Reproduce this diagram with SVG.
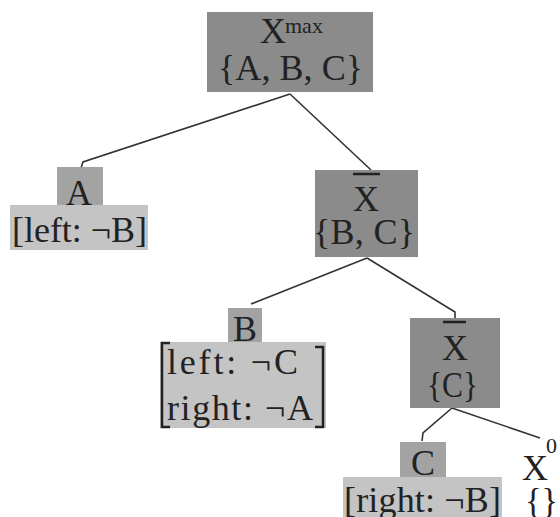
<svg xmlns="http://www.w3.org/2000/svg" width="560" height="517" viewBox="0 0 560 517">
<style>
.t{font-family:"Liberation Serif","Times New Roman",serif;fill:#222;font-size:36px}
.s{font-family:"Liberation Serif","Times New Roman",serif;fill:#222;font-size:22px}
.dark{fill:#8b8b8b}
.mid{fill:#a3a3a3}
.light{fill:#c4c4c4}
.edge{fill:none;stroke:#333;stroke-width:1.6}
.bar{stroke:#222;stroke-width:2.5}
.brk{fill:none;stroke:#222;stroke-width:2.5}
</style>
<rect width="560" height="517" fill="#fff"/>
<g id="connectors">
<path class="edge" d="M290,94 L83,162 L81,168"/>
<path class="edge" d="M290,94 L371,170"/>
<path class="edge" d="M367,258 L251,304"/>
<path class="edge" d="M367,258 L455,312 L455,320"/>
<path class="edge" d="M452,408 L423,433 L422,441"/>
<path class="edge" d="M452,408 L540,438"/>
</g>
<g id="root">
<rect class="dark" x="207" y="12" width="166" height="80"/>
<text class="t" x="260" y="43">X</text>
<text class="s" x="285" y="33">max</text>
<text class="t" x="218" y="80" textLength="145" lengthAdjust="spacing">{A, B, C}</text>
</g>
<g id="nodeA">
<rect class="mid" x="57" y="167" width="46" height="40"/>
<rect class="light" x="10" y="205" width="138" height="45"/>
<text class="t" x="79" y="205" text-anchor="middle">A</text>
<text class="t" x="12" y="242" textLength="135" lengthAdjust="spacing">[left: ¬B]</text>
</g>
<g id="xbar1">
<rect class="dark" x="315" y="170" width="103" height="87"/>
<line class="bar" x1="353" y1="174" x2="380" y2="174"/>
<text class="t" x="366" y="211" text-anchor="middle">X</text>
<text class="t" x="313" y="244" textLength="102" lengthAdjust="spacing">{B, C}</text>
</g>
<g id="nodeB">
<rect class="mid" x="228" y="308" width="34" height="35"/>
<rect class="light" x="160" y="342" width="166" height="86"/>
<text class="t" x="245" y="341" text-anchor="middle">B</text>
<path class="brk" d="M170,343 L162,343 L162,427 L170,427"/>
<path class="brk" d="M315,347 L323,347 L323,427 L315,427"/>
<text class="t" x="167" y="374" textLength="131" lengthAdjust="spacing">left: ¬C</text>
<text class="t" x="167" y="420" textLength="146" lengthAdjust="spacing">right: ¬A</text>
</g>
<g id="xbar2">
<rect class="dark" x="410" y="318" width="90" height="90"/>
<line class="bar" x1="443" y1="322" x2="466" y2="322"/>
<text class="t" x="455" y="360" text-anchor="middle">X</text>
<text class="t" x="427" y="397" textLength="51" lengthAdjust="spacingAndGlyphs">{C}</text>
</g>
<g id="nodeC">
<rect class="mid" x="400" y="442" width="46" height="35"/>
<rect class="light" x="343" y="477" width="159" height="40"/>
<text class="t" x="423" y="475" text-anchor="middle">C</text>
<text class="t" x="344" y="512" textLength="157" lengthAdjust="spacing">[right: ¬B]</text>
</g>
<g id="x0">
<text class="t" x="522" y="480">X</text>
<text class="s" x="546" y="453">0</text>
<text class="t" x="525" y="513" textLength="33" lengthAdjust="spacingAndGlyphs">{}</text>
</g>
</svg>
